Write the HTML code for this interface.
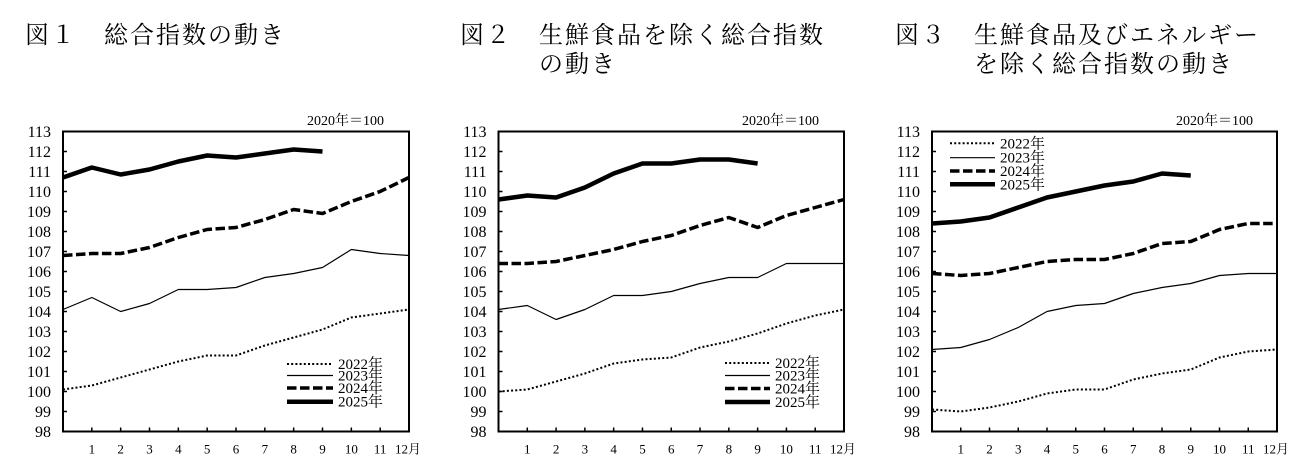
<!DOCTYPE html>
<html>
<head>
<meta charset="utf-8">
<style>
html,body{margin:0;padding:0;background:#fff;}
svg{display:block;}
.t{font-family:"Liberation Serif","Noto Serif CJK SC","Noto Serif CJK JP",serif;fill:#000;}
.title{font-size:24px;letter-spacing:2px;}
.yl{font-size:16px;text-anchor:end;}
.xl{font-size:13px;text-anchor:middle;}
.note{font-size:14px;text-anchor:end;}
.lg{font-size:15px;}
.frame{fill:none;stroke:#000;stroke-width:2;}
.tick{stroke:#000;stroke-width:1.5;}
.s22{fill:none;stroke:#000;stroke-width:2;stroke-dasharray:2 2.2;}
.s23{fill:none;stroke:#000;stroke-width:1.2;stroke-linejoin:round;}
.s24{fill:none;stroke:#000;stroke-width:3.5;stroke-dasharray:9.5 3.5;stroke-linejoin:round;}
.s25{fill:none;stroke:#000;stroke-width:4.5;stroke-linejoin:round;stroke-linecap:butt;}
</style>
</head>
<body>
<svg width="1316" height="474" viewBox="0 0 1316 474" xmlns="http://www.w3.org/2000/svg">
<rect width="1316" height="474" fill="#fff"/>

<!-- Titles -->
<text class="t title" x="25" y="43">図１</text>
<text class="t title" x="104" y="43">総合指数の動き</text>

<text class="t title" x="460" y="43">図２</text>
<text class="t title" x="539" y="43">生鮮食品を除く総合指数</text>
<text class="t title" x="539" y="72">の動き</text>

<text class="t title" x="895" y="43">図３</text>
<text class="t title" x="974" y="43">生鮮食品及びエネルギー</text>
<text class="t title" x="974" y="72">を除く総合指数の動き</text>

<!-- ================= Chart 1 ================= -->
<text class="t note" x="384" y="125">2020年＝100</text>
<g class="t yl">
<text x="51" y="137">113</text><text x="51" y="157">112</text><text x="51" y="177">111</text><text x="51" y="197">110</text>
<text x="51" y="217">109</text><text x="51" y="237">108</text><text x="51" y="257">107</text><text x="51" y="277">106</text>
<text x="51" y="297">105</text><text x="51" y="317">104</text><text x="51" y="337">103</text><text x="51" y="357">102</text>
<text x="51" y="377">101</text><text x="51" y="397">100</text><text x="51" y="417">99</text><text x="51" y="437">98</text>
</g>
<g class="t xl">
<text x="91.83" y="453.5">1</text><text x="120.67" y="453.5">2</text><text x="149.5" y="453.5">3</text><text x="178.33" y="453.5">4</text>
<text x="207.17" y="453.5">5</text><text x="236" y="453.5">6</text><text x="264.83" y="453.5">7</text><text x="293.67" y="453.5">8</text>
<text x="322.5" y="453.5">9</text><text x="351.33" y="453.5">10</text><text x="380.17" y="453.5">11</text><text x="408" y="453.5">12月</text>
</g>
<g class="tick">
<path d="M63 151.5h4M63 171.5h4M63 191.5h4M63 211.5h4M63 231.5h4M63 251.5h4M63 271.5h4M63 291.5h4M63 311.5h4M63 331.5h4M63 351.5h4M63 371.5h4M63 391.5h4M63 411.5h4"/>
<path d="M91.83 431.5v-4M120.67 431.5v-4M149.5 431.5v-4M178.33 431.5v-4M207.17 431.5v-4M236 431.5v-4M264.83 431.5v-4M293.67 431.5v-4M322.5 431.5v-4M351.33 431.5v-4M380.17 431.5v-4"/>
</g>
<polyline class="s22" points="63,389.5 91.83,385.5 120.67,377.5 149.5,369.5 178.33,361.5 207.17,355.5 236,355.5 264.83,345.5 293.67,337.5 322.5,329.5 351.33,317.5 380.17,313.5 409,309.5"/>
<polyline class="s23" points="63,309.5 91.83,297.5 120.67,311.5 149.5,303.5 178.33,289.5 207.17,289.5 236,287.5 264.83,277.5 293.67,273.5 322.5,267.5 351.33,249.5 380.17,253.5 409,255.5"/>
<polyline class="s24" points="63,255.5 91.83,253.5 120.67,253.5 149.5,247.5 178.33,237.5 207.17,229.5 236,227.5 264.83,219.5 293.67,209.5 322.5,213.5 351.33,201.5 380.17,191.5 409,177.5"/>
<polyline class="s25" points="63,177.5 91.83,167.5 120.67,174.5 149.5,169.5 178.33,161.5 207.17,155.5 236,157.5 264.83,153.5 293.67,149.5 322.5,151.5"/>
<!-- legend 1 -->
<line class="s22" x1="287" y1="364" x2="333" y2="364"/>
<line class="s23" x1="287" y1="375.5" x2="333" y2="375.5"/>
<line class="s24" x1="287" y1="388" x2="333" y2="388"/>
<line class="s25" x1="287" y1="401.7" x2="333" y2="401.7"/>
<g class="t lg">
<text x="338" y="369">2022年</text><text x="338" y="380.5">2023年</text><text x="338" y="393">2024年</text><text x="338" y="406.7">2025年</text>
</g>
<rect class="frame" x="63" y="131.5" width="346" height="300"/>

<!-- ================= Chart 2 ================= -->
<text class="t note" x="819" y="125">2020年＝100</text>
<g class="t yl">
<text x="486.5" y="137">113</text><text x="486.5" y="157">112</text><text x="486.5" y="177">111</text><text x="486.5" y="197">110</text>
<text x="486.5" y="217">109</text><text x="486.5" y="237">108</text><text x="486.5" y="257">107</text><text x="486.5" y="277">106</text>
<text x="486.5" y="297">105</text><text x="486.5" y="317">104</text><text x="486.5" y="337">103</text><text x="486.5" y="357">102</text>
<text x="486.5" y="377">101</text><text x="486.5" y="397">100</text><text x="486.5" y="417">99</text><text x="486.5" y="437">98</text>
</g>
<g class="t xl">
<text x="527.29" y="453.5">1</text><text x="556.08" y="453.5">2</text><text x="584.88" y="453.5">3</text><text x="613.67" y="453.5">4</text>
<text x="642.46" y="453.5">5</text><text x="671.25" y="453.5">6</text><text x="700.04" y="453.5">7</text><text x="728.83" y="453.5">8</text>
<text x="757.63" y="453.5">9</text><text x="786.42" y="453.5">10</text><text x="815.21" y="453.5">11</text><text x="843" y="453.5">12月</text>
</g>
<g class="tick">
<path d="M498.5 151.5h4M498.5 171.5h4M498.5 191.5h4M498.5 211.5h4M498.5 231.5h4M498.5 251.5h4M498.5 271.5h4M498.5 291.5h4M498.5 311.5h4M498.5 331.5h4M498.5 351.5h4M498.5 371.5h4M498.5 391.5h4M498.5 411.5h4"/>
<path d="M527.29 431.5v-4M556.08 431.5v-4M584.88 431.5v-4M613.67 431.5v-4M642.46 431.5v-4M671.25 431.5v-4M700.04 431.5v-4M728.83 431.5v-4M757.63 431.5v-4M786.42 431.5v-4M815.21 431.5v-4"/>
</g>
<polyline class="s22" points="498.5,391.5 527.29,389.5 556.08,381.5 584.88,373.5 613.67,363.5 642.46,359.5 671.25,357.5 700.04,347.5 728.83,341.5 757.63,333.5 786.42,323.5 815.21,315.5 844,309.5"/>
<polyline class="s23" points="498.5,309.5 527.29,305.5 556.08,319.5 584.88,309.5 613.67,295.5 642.46,295.5 671.25,291.5 700.04,283.5 728.83,277.5 757.63,277.5 786.42,263.5 815.21,263.5 844,263.5"/>
<polyline class="s24" points="498.5,263.5 527.29,263.5 556.08,261.5 584.88,255.5 613.67,249.5 642.46,241.5 671.25,235.5 700.04,225.5 728.83,217.5 757.63,227.5 786.42,215.5 815.21,207.5 844,199.5"/>
<polyline class="s25" points="498.5,199.5 527.29,195.5 556.08,197.5 584.88,187.5 613.67,173.5 642.46,163.5 671.25,163.5 700.04,159.5 728.83,159.5 757.63,163.5"/>
<!-- legend 2 -->
<line class="s22" x1="725" y1="363" x2="770" y2="363"/>
<line class="s23" x1="725" y1="375.5" x2="770" y2="375.5"/>
<line class="s24" x1="725" y1="388.5" x2="770" y2="388.5"/>
<line class="s25" x1="725" y1="402" x2="770" y2="402"/>
<g class="t lg">
<text x="775" y="368">2022年</text><text x="775" y="380.5">2023年</text><text x="775" y="393.5">2024年</text><text x="775" y="407">2025年</text>
</g>
<rect class="frame" x="498.5" y="131.5" width="345.5" height="300"/>

<!-- ================= Chart 3 ================= -->
<text class="t note" x="1253" y="125">2020年＝100</text>
<g class="t yl">
<text x="920" y="137">113</text><text x="920" y="157">112</text><text x="920" y="177">111</text><text x="920" y="197">110</text>
<text x="920" y="217">109</text><text x="920" y="237">108</text><text x="920" y="257">107</text><text x="920" y="277">106</text>
<text x="920" y="297">105</text><text x="920" y="317">104</text><text x="920" y="337">103</text><text x="920" y="357">102</text>
<text x="920" y="377">101</text><text x="920" y="397">100</text><text x="920" y="417">99</text><text x="920" y="437">98</text>
</g>
<g class="t xl">
<text x="960.75" y="453.5">1</text><text x="989.5" y="453.5">2</text><text x="1018.25" y="453.5">3</text><text x="1047" y="453.5">4</text>
<text x="1075.75" y="453.5">5</text><text x="1104.5" y="453.5">6</text><text x="1133.25" y="453.5">7</text><text x="1162" y="453.5">8</text>
<text x="1190.75" y="453.5">9</text><text x="1219.5" y="453.5">10</text><text x="1248.25" y="453.5">11</text><text x="1276" y="453.5">12月</text>
</g>
<g class="tick">
<path d="M932 151.5h4M932 171.5h4M932 191.5h4M932 211.5h4M932 231.5h4M932 251.5h4M932 271.5h4M932 291.5h4M932 311.5h4M932 331.5h4M932 351.5h4M932 371.5h4M932 391.5h4M932 411.5h4"/>
<path d="M960.75 431.5v-4M989.5 431.5v-4M1018.25 431.5v-4M1047 431.5v-4M1075.75 431.5v-4M1104.5 431.5v-4M1133.25 431.5v-4M1162 431.5v-4M1190.75 431.5v-4M1219.5 431.5v-4M1248.25 431.5v-4"/>
</g>
<polyline class="s22" points="932,409.5 960.75,411.5 989.5,407.5 1018.25,401.5 1047,393.5 1075.75,389.5 1104.5,389.5 1133.25,379.5 1162,373.5 1190.75,369.5 1219.5,357.5 1248.25,351.5 1277,349.5"/>
<polyline class="s23" points="932,349.5 960.75,347.5 989.5,339.5 1018.25,327.5 1047,311.5 1075.75,305.5 1104.5,303.5 1133.25,293.5 1162,287.5 1190.75,283.5 1219.5,275.5 1248.25,273.5 1277,273.5"/>
<polyline class="s24" points="932,273.5 960.75,275.5 989.5,273.5 1018.25,267.5 1047,261.5 1075.75,259.5 1104.5,259.5 1133.25,253.5 1162,243.5 1190.75,241.5 1219.5,229.5 1248.25,223.5 1277,223.5"/>
<polyline class="s25" points="932,223.5 960.75,221.5 989.5,217.5 1018.25,207.5 1047,197.5 1075.75,191.5 1104.5,185.5 1133.25,181.5 1162,173.5 1190.75,175.5"/>
<!-- legend 3 -->
<line class="s22" x1="950" y1="143.3" x2="995" y2="143.3"/>
<line class="s23" x1="950" y1="157.7" x2="995" y2="157.7"/>
<line class="s24" x1="950" y1="171" x2="995" y2="171"/>
<line class="s25" x1="950" y1="184.3" x2="995" y2="184.3"/>
<g class="t lg">
<text x="1000" y="148.3">2022年</text><text x="1000" y="162.7">2023年</text><text x="1000" y="176">2024年</text><text x="1000" y="189.3">2025年</text>
</g>
<rect class="frame" x="932" y="131.5" width="345" height="300"/>
</svg>
</body>
</html>
